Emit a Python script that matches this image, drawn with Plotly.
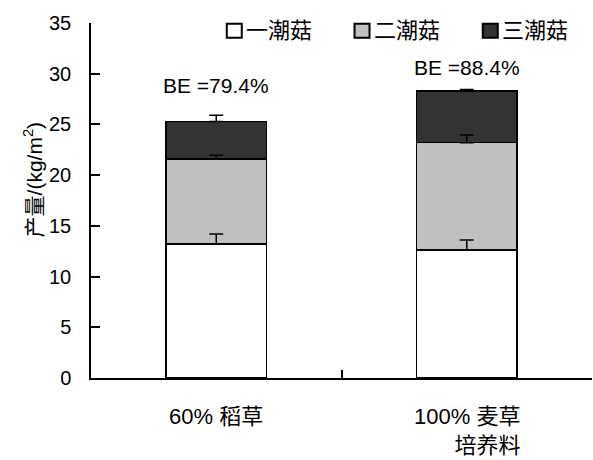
import plotly.graph_objects as go

# Yield of each flush (kg/m²) on two substrates, stacked per substrate
categories = ["60% 稻草", "100% 麦草<br>培养料"]
series_names = ["一潮菇", "二潮菇", "三潮菇"]
flush_1 = [13.2, 12.6]
flush_2 = [8.4, 10.6]
flush_3 = [3.7, 5.1]
err_1 = [1.0, 1.0]
err_2 = [0.35, 0.75]
err_3 = [0.6, 0.15]
be_labels = ["BE =79.4%", "BE =88.4%"]
y_ticks = [0, 5, 10, 15, 20, 25, 30, 35]

series_values = [flush_1, flush_2, flush_3]
series_errors = [err_1, err_2, err_3]
fill_colors = ["#ffffff", "#c0c0c0", "#333333"]

LATIN = "Liberation Sans, Arial, Noto Sans CJK SC, sans-serif"
FONT = dict(family=LATIN, size=21, color="#000000")

fig = go.Figure()
for name, vals, col in zip(series_names, series_values, fill_colors):
    fig.add_trace(go.Bar(
        x=categories, y=vals, name=name, width=0.4,
        marker=dict(color=col, line=dict(color="#000000", width=1.5)),
        showlegend=False,
    ))

# Upper error whiskers at the top of each stacked segment, drawn above all bars
running = [0.0] * len(categories)
for vals, errs in zip(series_values, series_errors):
    running = [r + v for r, v in zip(running, vals)]
    fig.add_trace(go.Scatter(
        x=categories, y=running, mode="markers",
        marker=dict(size=1, color="rgba(0,0,0,0)"),
        error_y=dict(type="data", array=errs, arrayminus=[0] * len(errs),
                     symmetric=False, color="#000000", thickness=1.5, width=7),
        showlegend=False, hoverinfo="skip",
    ))

# Legend drawn as outlined swatches followed by the series names
legend_x = [0.271, 0.526, 0.782]
for name, col, lx in zip(series_names, fill_colors, legend_x):
    fig.add_shape(type="rect", xref="paper", yref="paper",
                  xsizemode="pixel", ysizemode="pixel",
                  xanchor=lx, yanchor=0.978,
                  x0=0, x1=15, y0=-7, y1=7,
                  line=dict(color="#000000", width=2), fillcolor=col)
    fig.add_annotation(x=lx, y=0.978, xref="paper", yref="paper",
                       xshift=17, xanchor="left", yanchor="middle",
                       text=name, showarrow=False,
                       font=dict(family=LATIN, size=22, color="#000000"))

# Biological efficiency above each stack
be_y = [28.85, 30.65]
for cat, lab, by in zip(categories, be_labels, be_y):
    fig.add_annotation(x=cat, y=by, xref="x", yref="y", text=lab,
                       showarrow=False, font=FONT, yanchor="middle")

# Category labels under the axis, second line right-aligned
for cat in categories:
    fig.add_annotation(x=cat, y=0, xref="x", yref="paper", text=cat,
                       showarrow=False, align="right",
                       font=dict(family=LATIN, size=22, color="#000000"),
                       yanchor="top", yshift=-24)

fig.add_annotation(x=-0.146, y=0.559, xref="paper", yref="paper",
                   text="产量/(kg/m<sup>2</sup>)", textangle=-90,
                   showarrow=False,
                   font=dict(family="Liberation Sans, Noto Sans CJK SC, sans-serif",
                             size=21, color="#000000"))

fig.update_layout(
    width=593, height=460,
    margin=dict(l=91, r=1, t=23, b=82),
    paper_bgcolor="#ffffff", plot_bgcolor="#ffffff",
    barmode="stack",
    font=FONT,
    xaxis=dict(type="category", categoryorder="array", categoryarray=categories,
               range=[-0.5, 1.5], showticklabels=False,
               showline=True, linecolor="#000000", linewidth=1.5,
               ticks="inside", tickson="boundaries", ticklen=8,
               tickcolor="#000000", tickwidth=1.5, showgrid=False, zeroline=False),
    yaxis=dict(range=[0, 35], tickvals=y_ticks, ticktext=[str(v) for v in y_ticks],
               showline=True, linecolor="#000000", linewidth=1.5,
               ticks="inside", ticklen=9, tickcolor="#000000", tickwidth=1.5,
               ticklabelstandoff=14, showgrid=False, zeroline=False,
               tickfont=dict(family=LATIN, size=20, color="#000000")),
)

fig.write_html("out.html")
